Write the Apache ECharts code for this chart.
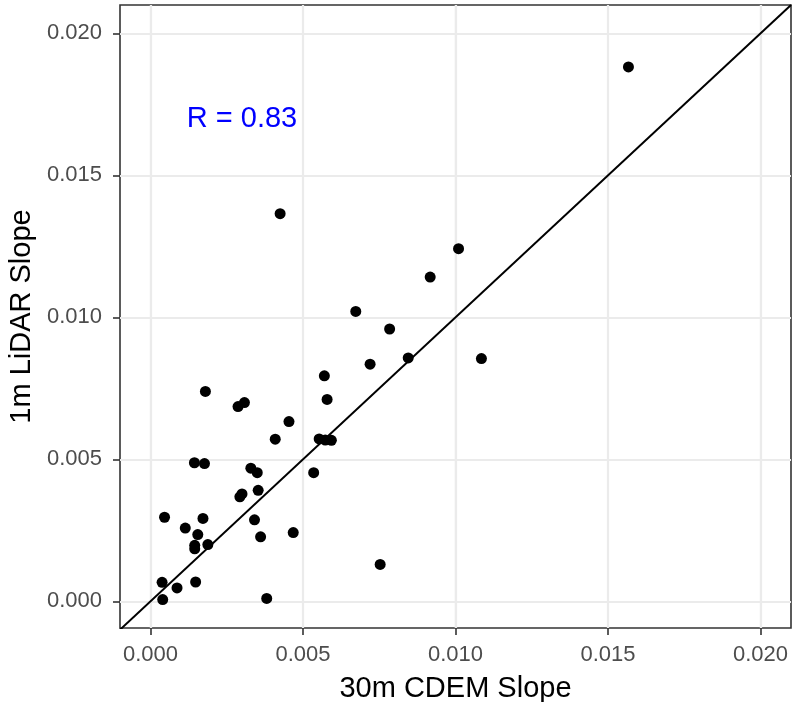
<!DOCTYPE html>
<html>
<head>
<meta charset="utf-8">
<script src="https://cdn.jsdelivr.net/npm/echarts@6/dist/echarts.min.js"></script>
<style>html,body{margin:0;padding:0;background:#fff}#c{width:792px;height:702px}</style>
</head>
<body>
<div id="c"></div>
<script>
// 30m CDEM slope (x) vs 1m LiDAR slope (y)
const cdemSlope = [0.01567,0.00425,0.01010,0.00917,0.00673,0.00784,0.00720,0.00845,0.01085,0.00570,
  0.00579,0.00180,0.00287,0.00308,0.00454,0.00409,0.00553,0.00573,0.00593,0.00144,
  0.00177,0.00329,0.00350,0.00535,0.00300,0.00293,0.00353,0.00046,0.00172,0.00114,
  0.00155,0.00145,0.00145,0.00188,0.00341,0.00361,0.00468,0.00753,0.00038,0.00087,
  0.00148,0.00040,0.00381];
const lidarSlope = [0.01882,0.01365,0.01242,0.01142,0.01021,0.00959,0.00835,0.00857,0.00855,0.00794,
  0.00711,0.00739,0.00686,0.00700,0.00633,0.00571,0.00572,0.00568,0.00567,0.00488,
  0.00485,0.00469,0.00453,0.00453,0.00378,0.00368,0.00391,0.00296,0.00292,0.00258,
  0.00235,0.00197,0.00185,0.00200,0.00287,0.00227,0.00242,0.00130,0.00067,0.00047,
  0.00068,0.00006,0.00010];
const majorTicks = [0, 0.005, 0.010, 0.015, 0.020];
const minorTicks = [0.0025, 0.0075, 0.0125, 0.0175];
const oneToOne = [-0.001, 0.021];
const annotation = {x: 0.003, y: 0.017, text: 'R = 0.83'};

const FONT = '"Liberation Sans", Arial, sans-serif';
const points = cdemSlope.map((x, i) => [x, lidarSlope[i]]);
const lineData = oneToOne.map(v => [v, v]);

const axisCommon = {
  type: 'value',
  axisLine: {show: false, onZero: false},
  axisTick: {show: true, inside: false, length: 7, customValues: majorTicks,
    lineStyle: {color: '#333333', width: 1.6}},
  axisLabel: {customValues: majorTicks, color: '#4D4D4D', fontSize: 22, fontFamily: FONT,
    formatter: v => v.toFixed(3)},
  splitLine: {show: true, lineStyle: {color: '#EBEBEB', width: 2.2}},
  nameLocation: 'middle',
  nameTextStyle: {color: '#000', fontSize: 29, fontFamily: FONT}
};

const chart = echarts.init(document.getElementById('c'), null, {renderer: 'canvas'});
chart.setOption({
  animation: false,
  backgroundColor: '#fff',
  grid: {left: 120, right: 1, top: 5, bottom: 74, show: true, borderColor: '#333333', borderWidth: 1.6,
    backgroundColor: 'transparent', containLabel: false, outerBoundsMode: 'none'},
  xAxis: Object.assign({}, axisCommon, {
    min: -0.001, max: 0.021, name: '30m CDEM Slope', nameGap: 46,
    axisLabel: Object.assign({}, axisCommon.axisLabel, {margin: 16})
  }),
  yAxis: Object.assign({}, axisCommon, {
    min: -0.00094, max: 0.021, name: '1m LiDAR Slope', nameGap: 82,
    axisLabel: Object.assign({}, axisCommon.axisLabel, {margin: 18})
  }),
  series: [
    {
      type: 'line', data: [], z: 1, silent: true,
      markLine: {
        silent: true, symbol: 'none', label: {show: false}, animation: false,
        lineStyle: {color: '#EBEBEB', width: 1.2, type: 'solid'},
        data: minorTicks.map(v => ({xAxis: v})).concat(minorTicks.map(v => ({yAxis: v})))
      }
    },
    {
      type: 'line', data: lineData, z: 10, symbol: 'none', clip: true, silent: true,
      lineStyle: {color: '#000', width: 2}
    },
    {
      type: 'scatter', data: points, z: 11, symbol: 'circle', symbolSize: 11,
      itemStyle: {color: '#000', opacity: 1}
    },
    {
      type: 'scatter', data: [[annotation.x, annotation.y]], z: 12, symbolSize: 0, silent: true,
      itemStyle: {opacity: 1},
      label: {show: true, position: 'inside', formatter: annotation.text, color: '#0000FF',
        fontSize: 29, fontFamily: FONT, opacity: 1}
    }
  ]
});
</script>
</body>
</html>
